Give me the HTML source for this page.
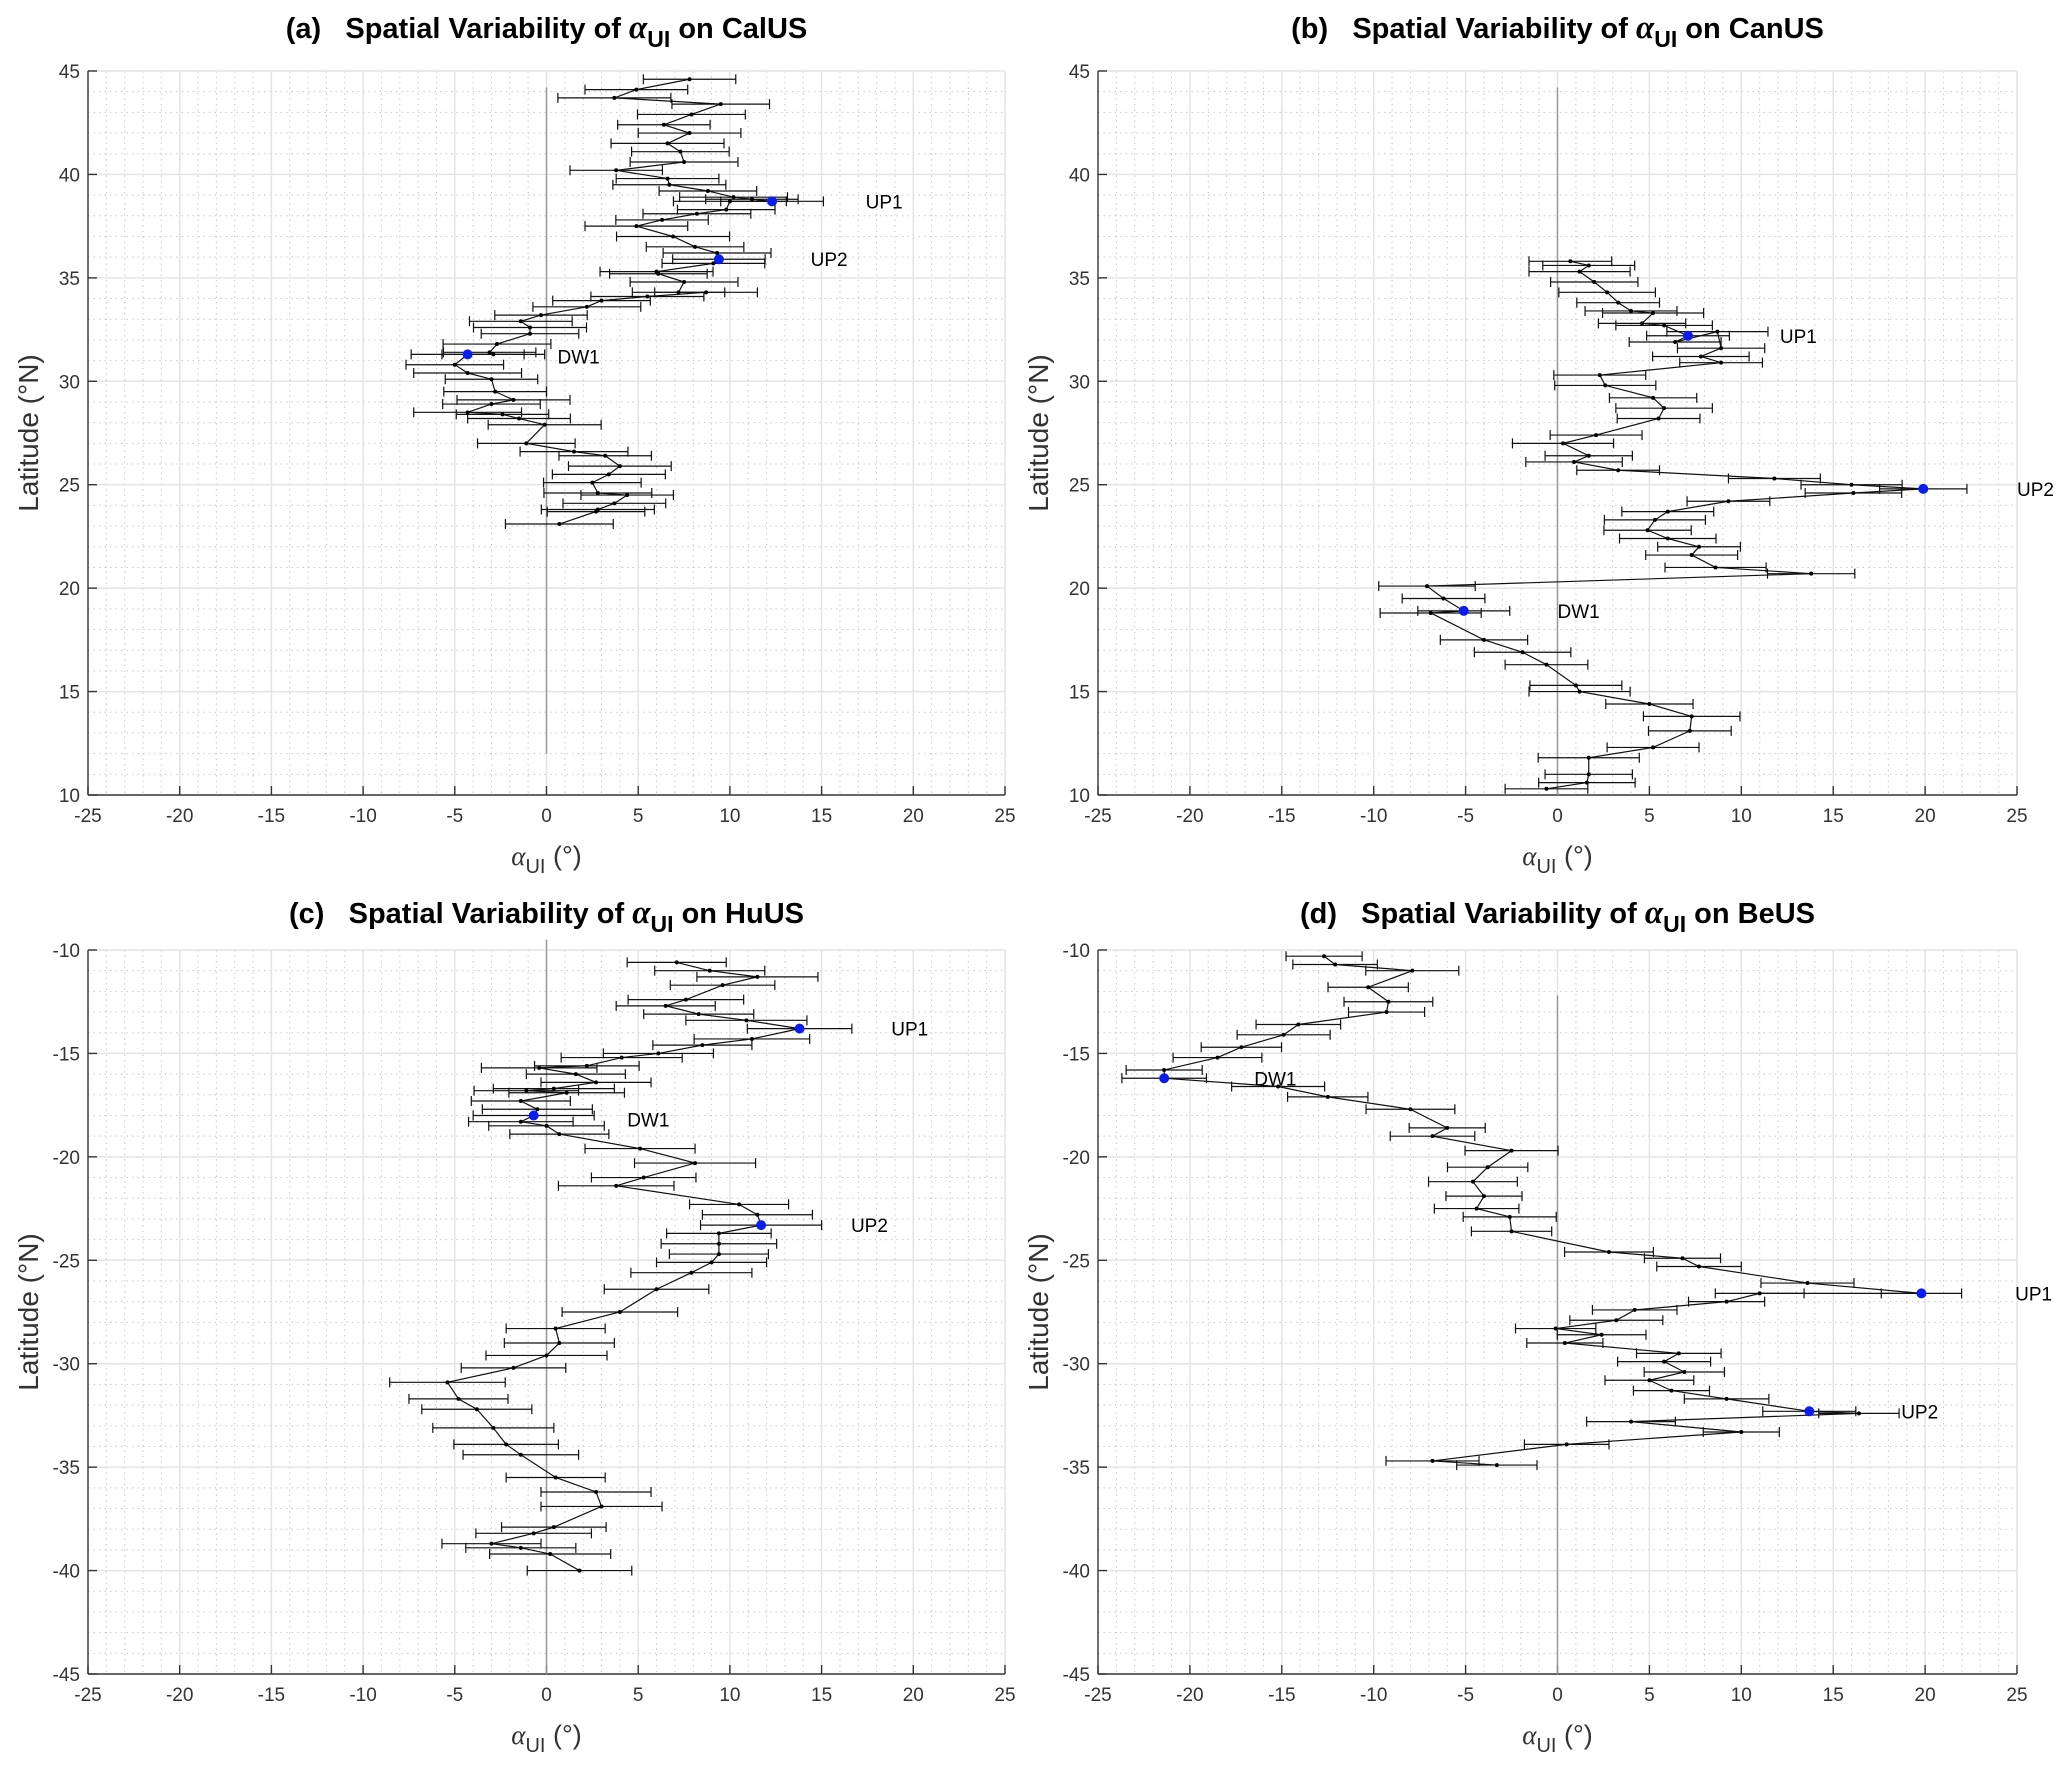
<!DOCTYPE html>
<html><head><meta charset="utf-8">
<style>
body{margin:0;background:#fff;}
svg{display:block;font-family:"Liberation Sans",Arial,sans-serif;}
</style></head>
<body>
<svg id="s" width="2067" height="1770" viewBox="0 0 2067 1770" xmlns="http://www.w3.org/2000/svg"></svg>
<script>
const S=document.getElementById('s');
let h='';
const panels=[
 {x0:88,x1:1005,y0:71,y1:795,ymin:10,ymax:45,lab:'(a)',name:'CalUS',ty:38,vl:[44.2,12],e:2.8,
  d:[[7.8,44.6],[4.9,44.1],[3.7,43.7],[9.5,43.4],[7.9,42.9],[6.4,42.4],[7.8,42.0],[6.6,41.5],[7.3,41.1],[7.5,40.6],[3.8,40.2],[6.6,39.8],[6.7,39.5],[8.8,39.2],[10.2,38.9],[11.2,38.8],[12.3,38.7,1],[10.0,38.7],[9.8,38.3],[8.2,38.1],[6.3,37.8],[4.9,37.5],[6.9,37.0],[8.1,36.5],[9.3,36.2],[9.4,35.9,1],[9.1,35.7],[6.0,35.3],[6.1,35.2],[7.5,34.8],[7.2,34.3],[8.7,34.3],[5.5,34.1],[3.0,33.9],[2.2,33.6],[-0.3,33.2],[-1.4,32.9],[-0.9,32.6],[-0.9,32.3],[-2.7,31.8],[-3.1,31.4],[-2.9,31.3],[-4.3,31.3,1],[-5.0,30.8],[-4.3,30.4],[-3.0,30.1],[-2.8,29.5],[-1.8,29.1],[-3.0,28.9],[-4.3,28.5],[-2.4,28.4],[-1.5,28.2],[-0.1,27.9],[-1.1,27.0],[1.5,26.6],[3.2,26.4],[4.0,25.9],[3.4,25.5],[2.5,25.1],[2.8,24.6],[4.4,24.5],[3.7,24.1],[2.8,23.8],[2.7,23.7],[0.7,23.1]],
  t:[['UP1',17.4,38.7],['UP2',14.4,35.9],['DW1',0.6,31.2]]},
 {x0:1098,x1:2017,y0:71,y1:795,ymin:10,ymax:45,lab:'(b)',name:'CanUS',ty:38,vl:[44.2,10],e:2.5,
  d:[[0.7,35.8],[1.7,35.6],[1.2,35.3],[2.0,34.8],[2.7,34.3],[3.3,33.8],[4.0,33.4],[5.2,33.3],[4.6,32.8],[5.8,32.7],[7.1,32.2,1],[6.4,31.9],[8.7,32.4],[8.9,31.6],[7.8,31.2],[8.9,30.9],[2.3,30.3],[2.6,29.8],[5.2,29.2],[5.8,28.7],[5.5,28.2],[2.1,27.4],[0.3,27.0],[1.7,26.4],[0.9,26.1],[3.3,25.7],[11.8,25.3],[16.0,25.0],[19.9,24.8,1],[16.1,24.6],[9.3,24.2],[6.0,23.7],[5.3,23.3],[4.9,22.8],[6.0,22.4],[7.7,22.0],[7.3,21.6],[8.6,21.0],[13.8,20.7],[-7.1,20.1],[-6.2,19.5],[-5.1,18.9,1],[-6.9,18.8],[-4.0,17.5],[-1.9,16.9],[-0.6,16.3],[1.0,15.3],[1.2,15.0],[5.0,14.4],[7.3,13.8],[7.2,13.1],[5.2,12.3],[1.7,11.8],[1.7,11.0],[1.6,10.6],[-0.6,10.3]],
  t:[['UP1',12.1,32.2],['UP2',25.0,24.8],['DW1',0.0,18.9]]},
 {x0:88,x1:1005,y0:950,y1:1674,ymin:-45,ymax:-10,lab:'(c)',name:'HuUS',ty:923,vl:[-9.5,-45],e:3.0,
  d:[[7.1,-10.6],[8.9,-11.0],[11.5,-11.3],[9.6,-11.7],[7.6,-12.4],[6.5,-12.7],[8.3,-13.1],[10.9,-13.4],[13.8,-13.8,1],[11.2,-14.3],[8.5,-14.6],[6.1,-15.0],[4.1,-15.2],[2.2,-15.6],[-0.4,-15.7],[1.6,-16.0],[2.7,-16.4],[0.4,-16.7],[-1.1,-16.8],[1.1,-16.9],[-1.4,-17.3],[-0.5,-17.7],[-0.7,-18.0,1],[-1.4,-18.3],[0,-18.5],[0.7,-18.9],[5.1,-19.6],[8.1,-20.3],[5.3,-21.0],[3.8,-21.4],[10.5,-22.3],[11.5,-22.8],[11.7,-23.3,1],[9.4,-23.7],[9.4,-24.2],[9.4,-24.7],[9.0,-25.1],[7.9,-25.6],[6.0,-26.4],[4.0,-27.5],[0.5,-28.3],[0.7,-29.0],[0,-29.6],[-1.8,-30.2],[-5.4,-30.9],[-4.8,-31.7],[-3.8,-32.2],[-2.9,-33.1],[-2.2,-33.9],[-1.4,-34.4],[0.5,-35.5],[2.7,-36.2],[3.0,-36.9],[0.4,-37.9],[-0.7,-38.2],[-3.0,-38.7],[-1.4,-38.9],[0.2,-39.2],[1.8,-40.0]],
  t:[['UP1',18.8,-13.8],['DW1',4.4,-18.2],['UP2',16.6,-23.3]]},
 {x0:1098,x1:2017,y0:950,y1:1674,ymin:-45,ymax:-10,lab:'(d)',name:'BeUS',ty:923,vl:[-12.2,-45],e:2.3,
  d:[[-12.7,-10.3],[-12.1,-10.7],[-7.9,-11.0],[-10.3,-11.8],[-9.2,-12.5],[-9.3,-13.0],[-14.1,-13.6],[-14.9,-14.1],[-17.2,-14.7],[-18.5,-15.2],[-21.4,-15.8],[-21.4,-16.2,1],[-15.2,-16.6],[-12.5,-17.1],[-8.0,-17.7],[-6.0,-18.6],[-6.8,-19.0],[-2.5,-19.7],[-3.8,-20.5],[-4.6,-21.2],[-4.0,-21.9],[-4.4,-22.5],[-2.6,-22.9],[-2.5,-23.6],[2.8,-24.6],[6.8,-24.9],[7.7,-25.3],[13.6,-26.1],[19.8,-26.6,1],[11.0,-26.6],[9.2,-27.0],[4.2,-27.4],[3.2,-27.9],[-0.1,-28.3],[2.4,-28.6],[0.4,-29.0],[6.6,-29.5],[5.8,-29.9],[6.9,-30.4],[5.0,-30.8],[6.2,-31.3],[9.2,-31.7],[13.7,-32.3,1],[16.4,-32.4],[4.0,-32.8],[10.0,-33.3],[0.5,-33.9],[-6.8,-34.7],[-3.3,-34.9]],
  t:[['DW1',-16.5,-16.2],['UP1',24.9,-26.6],['UP2',18.7,-32.3]]}
];
for(const p of panels){
 const X=a=>p.x0+(a+25)/50*(p.x1-p.x0);
 const Y=l=>p.y1-(l-p.ymin)/(p.ymax-p.ymin)*(p.y1-p.y0);
 for(let a=-24;a<25;a++){ if(a%5) h+=`<line x1="${X(a)}" y1="${p.y0}" x2="${X(a)}" y2="${p.y1}" stroke="#c8c8c8" stroke-width="1" stroke-dasharray="1.5,4"/>`;}
 for(let l=p.ymin+1;l<p.ymax;l++){ if(l%5) h+=`<line x1="${p.x0}" y1="${Y(l)}" x2="${p.x1}" y2="${Y(l)}" stroke="#c8c8c8" stroke-width="1" stroke-dasharray="1.5,4"/>`;}
 for(let a=-20;a<=25;a+=5) h+=`<line x1="${X(a)}" y1="${p.y0}" x2="${X(a)}" y2="${p.y1}" stroke="#e4e4e4" stroke-width="1.5"/>`;
 for(let l=p.ymin+5;l<=p.ymax;l+=5) h+=`<line x1="${p.x0}" y1="${Y(l)}" x2="${p.x1}" y2="${Y(l)}" stroke="#e4e4e4" stroke-width="1.5"/>`;
 h+=`<line x1="${p.x0}" y1="${p.y0}" x2="${p.x0}" y2="${p.y1}" stroke="#333" stroke-width="1.4"/>`;
 h+=`<line x1="${p.x0}" y1="${p.y1}" x2="${p.x1}" y2="${p.y1}" stroke="#333" stroke-width="1.4"/>`;
 for(let a=-25;a<=25;a+=5){h+=`<line x1="${X(a)}" y1="${p.y1}" x2="${X(a)}" y2="${p.y1-9}" stroke="#333" stroke-width="1.4"/>`;
  h+=`<text x="${X(a)}" y="${p.y1+27}" font-size="19" fill="#333" text-anchor="middle">${a}</text>`;}
 for(let l=p.ymin;l<=p.ymax;l+=5){h+=`<line x1="${p.x0}" y1="${Y(l)}" x2="${p.x0+9}" y2="${Y(l)}" stroke="#333" stroke-width="1.4"/>`;
  h+=`<text x="${p.x0-8}" y="${Y(l)+7}" font-size="19" fill="#333" text-anchor="end">${l}</text>`;}
 const cx=(p.x0+p.x1)/2;
 h+=`<text x="${cx}" y="${p.y1+70}" font-size="27" fill="#333" text-anchor="middle"><tspan font-family="Liberation Serif,serif" font-style="italic">α</tspan><tspan font-size="20" dy="8">UI</tspan><tspan dy="-8"> (°)</tspan></text>`;
 h+=`<text transform="translate(${p.x0-50},${(p.y0+p.y1)/2}) rotate(-90)" font-size="28" fill="#333" text-anchor="middle">Latitude (°N)</text>`;
 h+=`<text x="${cx}" y="${p.ty}" font-size="29" font-weight="bold" fill="#000" text-anchor="middle">${p.lab}&#160;&#160;&#160;Spatial Variability of <tspan font-family="Liberation Serif,serif" font-style="italic" font-size="33">α</tspan><tspan font-size="23" dy="9">UI</tspan><tspan dy="-9"> on ${p.name}</tspan></text>`;
 h+=`<line x1="${X(0)}" y1="${Y(p.vl[0])}" x2="${X(0)}" y2="${Y(p.vl[1])}" stroke="#999" stroke-width="1.5"/>`;
 p.d.forEach((q,i)=>{const e=p.e*(0.9+0.2*((i*7)%5)/4);const y=Y(q[1]);const a=X(q[0]-e),b=X(q[0]+e);
  h+=`<path d="M${a} ${y}H${b}M${a} ${y-5}V${y+5}M${b} ${y-5}V${y+5}" stroke="#111" stroke-width="1.2" fill="none"/>`;});
 h+=`<polyline points="${p.d.map(q=>X(q[0])+','+Y(q[1])).join(' ')}" fill="none" stroke="#111" stroke-width="1.2"/>`;
 p.d.forEach(q=>{h+=`<circle cx="${X(q[0])}" cy="${Y(q[1])}" r="${q[2]?5:2}" fill="${q[2]?'#0a1cf0':'#000'}"/>`;});
 p.t.forEach(t=>{h+=`<text x="${X(t[1])}" y="${Y(t[2])+7}" font-size="19" fill="#000">${t[0]}</text>`;});
}
S.innerHTML=h;
</script>
</body></html>
